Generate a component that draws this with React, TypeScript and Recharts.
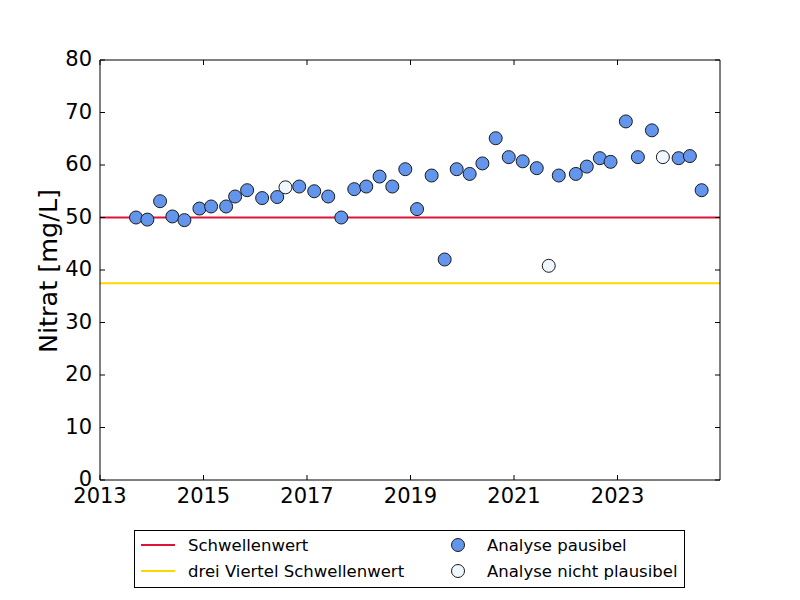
import React from 'react';
import { ScatterChart, Scatter, XAxis, YAxis, ReferenceLine } from 'recharts';

// Decimal-year sampling dates and nitrate values (mg/L)
const plausibleDates = [
  2013.696, 2013.915, 2014.161, 2014.398, 2014.631, 2014.921, 2015.147, 2015.437,
  2015.611, 2015.843, 2016.133, 2016.424, 2016.849, 2017.139, 2017.41, 2017.662,
  2017.913, 2018.145, 2018.402, 2018.648, 2018.899, 2019.126, 2019.408, 2019.66,
  2019.892, 2020.143, 2020.389, 2020.646, 2020.898, 2021.168, 2021.439, 2021.865,
  2022.194, 2022.406, 2022.658, 2022.865, 2023.161, 2023.393, 2023.664, 2024.18,
  2024.398, 2024.625,
];
const plausibleValues = [
  50.0, 49.6, 53.1, 50.2, 49.5, 51.7, 52.1, 52.1,
  54.0, 55.2, 53.7, 53.9, 55.9, 55.0, 54.0, 50.0,
  55.4, 55.9, 57.8, 55.9, 59.2, 51.6, 58.0, 42.0,
  59.2, 58.3, 60.3, 65.1, 61.5, 60.7, 59.4, 58.0,
  58.3, 59.7, 61.3, 60.6, 68.3, 61.5, 66.6, 61.3,
  61.7, 55.2,
];
const implausibleDates = [2016.584, 2021.671, 2023.876];
const implausibleValues = [55.75, 40.8, 61.5];

const threshold = 50;
const threeQuarterThreshold = 37.5;

const xTicks = [2013, 2015, 2017, 2019, 2021, 2023];
const yTicks = [0, 10, 20, 30, 40, 50, 60, 70, 80];
const xDomain = [2013, 2024.98];
const yDomain = [0, 80];

const legendLines = ['Schwellenwert', 'drei Viertel Schwellenwert'];
const legendMarkers = ['Analyse pausibel', 'Analyse nicht plausibel'];

const FONT = 'DejaVu Sans, sans-serif';
const BLUE = '#6495ED';
const WHITE = '#F0F8FF';
const RED = '#DC143C';
const GOLD = '#FFD700';

const plausibleData = plausibleDates.map((d, i) => ({ date: d, value: plausibleValues[i] }));
const implausibleData = implausibleDates.map((d, i) => ({ date: d, value: implausibleValues[i] }));

const BottomTick = (props: any) => {
  const { x, y, payload } = props;
  return (
    <g>
      <line x1={x} x2={x} y1={y} y2={y - 5} stroke="#000" strokeWidth={1} />
      <text x={x} y={y + 23} textAnchor="middle" fontSize={21} fontFamily={FONT} fill="#000">
        {payload.value}
      </text>
    </g>
  );
};
const TopTick = (props: any) => {
  const { x, y } = props;
  return <line x1={x} x2={x} y1={y} y2={y + 5} stroke="#000" strokeWidth={1} />;
};
const LeftTick = (props: any) => {
  const { x, y, payload } = props;
  return (
    <g>
      <line x1={x} x2={x + 5} y1={y} y2={y} stroke="#000" strokeWidth={1} />
      <text x={x - 8} y={y + 6} textAnchor="end" fontSize={21} fontFamily={FONT} fill="#000">
        {payload.value}
      </text>
    </g>
  );
};
const RightTick = (props: any) => {
  const { x, y } = props;
  return <line x1={x} x2={x - 5} y1={y} y2={y} stroke="#000" strokeWidth={1} />;
};

const makeDot = (fill: string) => (props: any) => (
  <circle cx={props.cx} cy={props.cy} r={6.5} fill={fill} stroke="#1a1a1a" strokeWidth={1} />
);

const LegendBox = () => (
  <svg width={800} height={600} style={{ position: 'absolute', left: 0, top: 0, pointerEvents: 'none' }}>
    <rect x={134.5} y={530.5} width={550} height={57} fill="#fff" stroke="#000" strokeWidth={1} />
    {legendLines.map((label, i) => (
      <g key={label}>
        <line x1={141} x2={175} y1={545 + i * 26} y2={545 + i * 26} stroke={i === 0 ? RED : GOLD} strokeWidth={2} />
        <text x={188} y={551 + i * 26} fontSize={16.5} fontFamily={FONT} fill="#000">{label}</text>
      </g>
    ))}
    {legendMarkers.map((label, i) => (
      <g key={label}>
        <circle cx={458} cy={545 + i * 26} r={6.5} fill={i === 0 ? BLUE : WHITE} stroke="#1a1a1a" strokeWidth={1} />
        <text x={487} y={551 + i * 26} fontSize={16.5} fontFamily={FONT} fill="#000">{label}</text>
      </g>
    ))}
  </svg>
);

export default function App() {
  return (
    <div style={{ position: 'absolute', left: 0, top: 0, width: 800, height: 600, background: '#fff' }}>
      <ScatterChart width={800} height={600} margin={{ top: 59, right: 79, bottom: 80, left: 40 }}>
        <XAxis
          xAxisId="bottom"
          type="number"
          dataKey="date"
          domain={xDomain}
          ticks={xTicks}
          allowDataOverflow
          orientation="bottom"
          height={40}
          tickSize={0}
          tickMargin={0}
          tickLine={false}
          axisLine={{ stroke: '#000', strokeWidth: 1 }}
          tick={<BottomTick />}
          interval={0}
        />
        <XAxis
          xAxisId="top"
          type="number"
          dataKey="date"
          domain={xDomain}
          ticks={xTicks}
          allowDataOverflow
          orientation="top"
          height={1}
          tickSize={0}
          tickMargin={0}
          tickLine={false}
          axisLine={{ stroke: '#000', strokeWidth: 1 }}
          tick={<TopTick />}
          interval={0}
        />
        <YAxis
          yAxisId="left"
          type="number"
          dataKey="value"
          domain={yDomain}
          ticks={yTicks}
          allowDataOverflow
          orientation="left"
          width={60}
          tickSize={0}
          tickMargin={0}
          tickLine={false}
          axisLine={{ stroke: '#000', strokeWidth: 1 }}
          tick={<LeftTick />}
          interval={0}
          label={{
            value: 'Nitrat [mg/L]',
            angle: -90,
            position: 'insideLeft',
            content: () => (
              <text
                x={57}
                y={271}
                transform="rotate(-90 57 271)"
                textAnchor="middle"
                fontSize={25.5}
                fontFamily={FONT}
                fill="#000"
              >
                Nitrat [mg/L]
              </text>
            ),
          }}
        />
        <YAxis
          yAxisId="right"
          type="number"
          dataKey="value"
          domain={yDomain}
          ticks={yTicks}
          allowDataOverflow
          orientation="right"
          width={1}
          tickSize={0}
          tickMargin={0}
          tickLine={false}
          axisLine={{ stroke: '#000', strokeWidth: 1 }}
          tick={<RightTick />}
          interval={0}
        />
        <ReferenceLine xAxisId="bottom" yAxisId="left" y={threshold} stroke={RED} strokeWidth={2} />
        <ReferenceLine xAxisId="bottom" yAxisId="left" y={threeQuarterThreshold} stroke={GOLD} strokeWidth={2} />
        <Scatter
          name="Analyse pausibel"
          data={plausibleData}
          xAxisId="bottom"
          yAxisId="left"
          shape={makeDot(BLUE)}
          isAnimationActive={false}
        />
        <Scatter
          name="Analyse nicht plausibel"
          data={implausibleData}
          xAxisId="bottom"
          yAxisId="left"
          shape={makeDot(WHITE)}
          isAnimationActive={false}
        />
      </ScatterChart>
      <LegendBox />
    </div>
  );
}
